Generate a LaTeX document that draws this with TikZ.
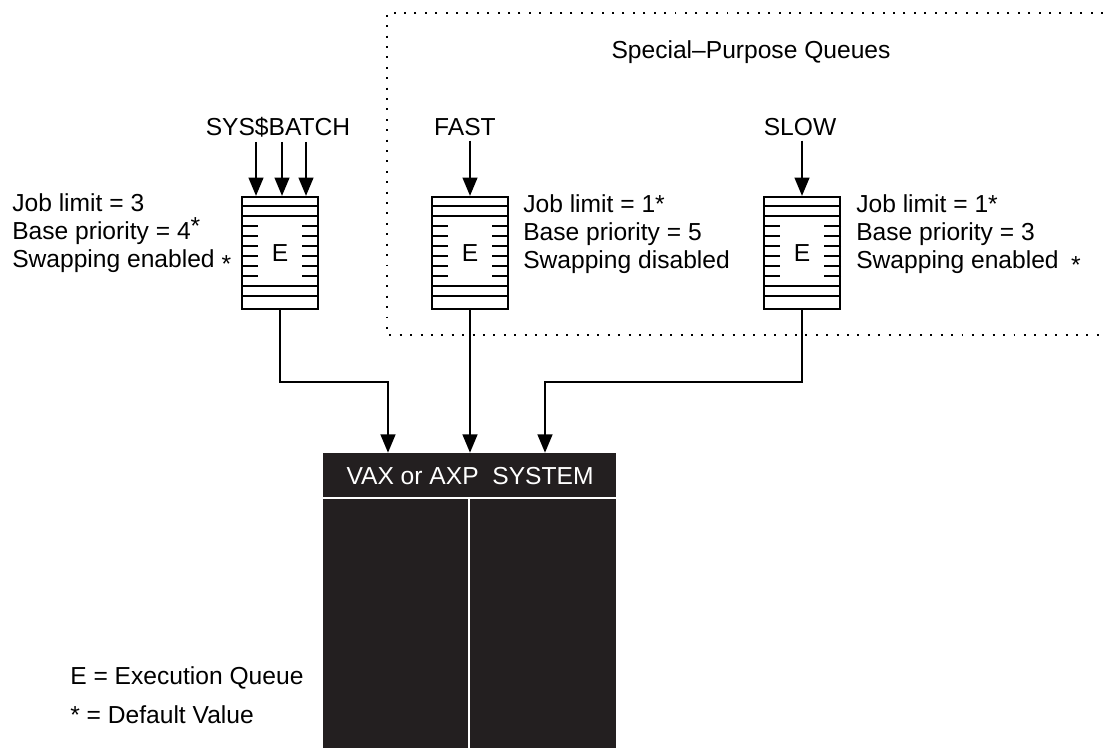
\documentclass[tikz,border=0pt]{standalone}
\usepackage{fontspec}
\setmainfont{Liberation Sans}
\usepackage{tikz}
\usetikzlibrary{arrows.meta}
\definecolor{sysblack}{HTML}{231F20}

\begin{document}
\begin{tikzpicture}[
    font=\fontsize{17.5}{20}\selectfont,
    queue/.style={draw=black,line width=1.6pt,minimum width=1.9cm,minimum height=2.8cm,inner sep=0pt},
    qline/.style={line width=1.4pt},
    arr/.style={-{Triangle[length=13pt,width=10.5pt]},line width=1.4pt},
    dotbox/.style={line width=1.4pt,dash pattern=on 1.4pt off 6pt},
    notes/.style={align=left,anchor=west,inner sep=0pt}
  ]

      \useasboundingbox (0,0) rectangle (27.575,-18.7);

      \draw[dotbox] (27.575,-0.325) -- (9.675,-0.325) -- (9.675,-8.375) -- (27.575,-8.375);
      \node[] (spq) at (18.775,-1.3){Special\textendash Purpose Queues};

      \node[] (sysbatch) at (6.95,-3.175){SYS\$BATCH};
      \node[] (fast) at (11.625,-3.175){FAST};
      \node[] (slow) at (20.0,-3.175){SLOW};

      \node[queue] (qsys) at (7.0,-6.325){E};
      \node[queue] (qfast) at (11.75,-6.325){E};
      \node[queue] (qslow) at (20.05,-6.325){E};

      % queue slots
      \foreach \q in {qsys,qfast,qslow}{
        \foreach \dy in {0.25,0.5,2.25,2.5}
          \draw[qline] ([yshift=-\dy cm]\q.north west) -- ([yshift=-\dy cm]\q.north east);
        \foreach \dy in {0.75,1,1.25,1.5,1.75,2}{
          \draw[qline] ([yshift=-\dy cm]\q.north west) -- ++(0.425,0);
          \draw[qline] ([yshift=-\dy cm]\q.north east) -- ++(-0.425,0);
        }
      }

      \node[notes] (sysnote) at (0.3,-5.825){Job limit = 3\\Base priority = 4\raisebox{0.2em}{*}\\Swapping enabled \raisebox{-0.2em}{*}};
      \node[notes] (fastnote) at (13.075,-5.85){Job limit = 1*\\Base priority = 5\\Swapping disabled};
      \node[notes] (slownote) at (21.4,-5.85){Job limit = 1*\\Base priority = 3\\Swapping enabled\hspace{0.5em}\raisebox{-0.2em}{*}};

      \node[fill=sysblack,minimum width=7.325cm,minimum height=7.375cm,inner sep=0pt] (vax) at (11.7375,-15.0125){};
      \node[text=white] (vaxname) at (11.75,-11.9){VAX or AXP\ \ SYSTEM};
      \draw[white,line width=1.4pt] (vax.west |- 0,-12.45) -- (vax.east |- 0,-12.45);
      \draw[white,line width=1.4pt] (11.725,-12.45) -- (vax.south -| 11.725,0);

      \node[anchor=west,inner sep=0pt] (legq) at (1.75,-16.95){E = Execution Queue};
      \node[anchor=west,inner sep=0pt] (legstar) at (1.75,-17.875){* = Default Value};

      \coordinate (rowlink) at (0,-9.55);

      \draw[arr] (sysbatch.south -| 6.4,0) -- (qsys.north -| 6.4,0);
      \draw[arr] (sysbatch.south -| 7.05,0) -- (qsys.north -| 7.05,0);
      \draw[arr] (sysbatch.south -| 7.65,0) -- (qsys.north -| 7.65,0);
      \draw[arr] (fast.south -| qfast.north) -- (qfast.north);
      \draw[arr] (slow.south -| qslow.north) -- (qslow.north);
      \draw[arr] (qsys.south) -- (qsys.south |- rowlink) -| (vax.north -| 9.7,0);
      \draw[arr] (qfast.south) -- (qfast.south |- vax.north);
      \draw[arr] (qslow.south) -- (qslow.south |- rowlink) -| (vax.north -| 13.625,0);
    \end{tikzpicture}
\end{document}
